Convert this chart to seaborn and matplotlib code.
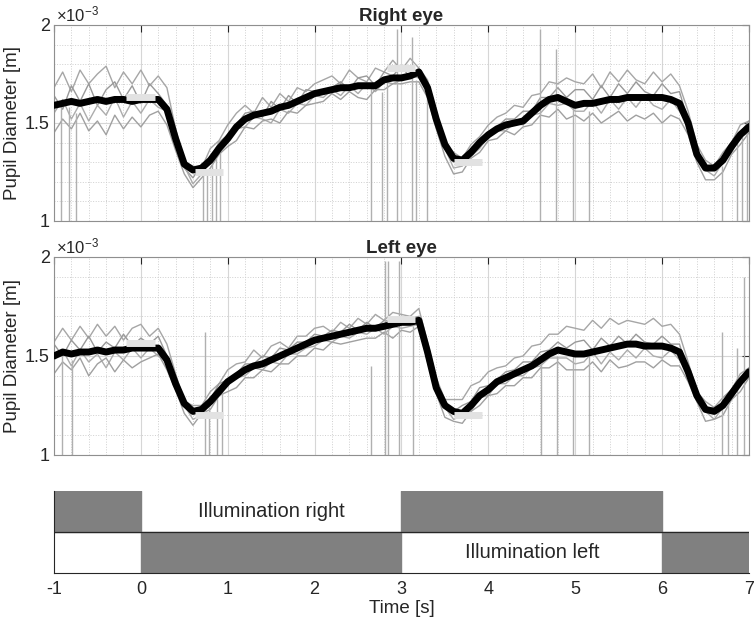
import numpy as np
import matplotlib
matplotlib.use('Agg')
import matplotlib.pyplot as plt
import seaborn as sns
from matplotlib.ticker import MultipleLocator

# time axis [s], one value every 0.1 s
t = np.round(np.linspace(-1, 7, 81), 2)

# pupil diameter, x 1e-3 m
right_mean = [1.59, 1.60, 1.61, 1.60, 1.61, 1.62, 1.61, 1.62, 1.62, 1.61, 1.62, 1.62, 1.62,
              1.57, 1.42, 1.29, 1.26, 1.27, 1.31, 1.37, 1.42,
              1.48, 1.52, 1.54, 1.55, 1.56, 1.58, 1.59, 1.61, 1.63, 1.65,
              1.66, 1.67, 1.68, 1.68, 1.69, 1.69, 1.69, 1.72, 1.73, 1.73, 1.74, 1.76,
              1.68, 1.52, 1.39, 1.32, 1.31, 1.35, 1.40, 1.44,
              1.47, 1.49, 1.50, 1.51, 1.55, 1.59, 1.62, 1.63, 1.61, 1.59,
              1.60, 1.60, 1.61, 1.62, 1.62, 1.63, 1.63, 1.63, 1.63, 1.63, 1.62, 1.60,
              1.50, 1.34, 1.27, 1.27, 1.31, 1.38, 1.44, 1.48]

right_trials = [
    [1.68, 1.76, 1.66, 1.77, 1.70, 1.75, 1.79, 1.68, 1.76, 1.70, 1.77, 1.69, 1.74,
     1.68, 1.47, 1.30, 1.28, 1.27, 1.37, 1.41, 1.49,
     1.55, 1.59, 1.55, 1.63, 1.58, 1.65, 1.61, 1.68, 1.66, 1.70,
     1.72, 1.74, 1.70, 1.77, 1.73, 1.71, 1.78, 1.76, 1.82, 1.77, 1.83, 1.78,
     1.72, 1.56, 1.40, 1.35, 1.32, 1.39, 1.43, 1.49,
     1.53, 1.55, 1.59, 1.58, 1.64, 1.65, 1.71, 1.70, 1.73, 1.71,
     1.70, 1.75, 1.68, 1.76, 1.71, 1.77, 1.72, 1.70, 1.76, 1.71, 1.75, 1.69,
     1.56, 1.39, 1.31, 1.28, 1.35, 1.40, 1.49, 1.51],
    [1.64, 1.57, 1.69, 1.61, 1.70, 1.59, 1.67, 1.71, 1.62, 1.69, 1.60, 1.70, 1.65,
     1.59, 1.44, 1.27, 1.22, 1.29, 1.32, 1.40, 1.44,
     1.49, 1.55, 1.56, 1.53, 1.61, 1.57, 1.64, 1.60, 1.67, 1.66,
     1.67, 1.68, 1.71, 1.67, 1.73, 1.74, 1.69, 1.76, 1.74, 1.79, 1.73, 1.78,
     1.68, 1.54, 1.37, 1.30, 1.32, 1.35, 1.42, 1.45,
     1.48, 1.52, 1.52, 1.56, 1.56, 1.63, 1.63, 1.68, 1.63, 1.67,
     1.67, 1.62, 1.69, 1.63, 1.70, 1.65, 1.71, 1.66, 1.64, 1.70, 1.65, 1.66,
     1.51, 1.37, 1.27, 1.28, 1.31, 1.40, 1.45, 1.51],
    [1.55, 1.62, 1.52, 1.60, 1.51, 1.59, 1.54, 1.63, 1.53, 1.61, 1.55, 1.62, 1.58,
     1.56, 1.39, 1.28, 1.19, 1.24, 1.31, 1.35, 1.42,
     1.47, 1.48, 1.53, 1.52, 1.50, 1.57, 1.55, 1.60, 1.59, 1.64,
     1.63, 1.67, 1.64, 1.69, 1.65, 1.70, 1.66, 1.71, 1.70, 1.72, 1.74, 1.73,
     1.67, 1.49, 1.37, 1.27, 1.28, 1.33, 1.37, 1.43,
     1.46, 1.46, 1.50, 1.49, 1.54, 1.55, 1.60, 1.59, 1.60, 1.56,
     1.56, 1.61, 1.55, 1.62, 1.57, 1.63, 1.58, 1.64, 1.59, 1.57, 1.62, 1.56,
     1.49, 1.31, 1.26, 1.23, 1.30, 1.35, 1.43, 1.45],
    [1.45, 1.52, 1.47, 1.55, 1.46, 1.51, 1.44, 1.54, 1.47, 1.53, 1.48, 1.54, 1.56,
     1.49, 1.36, 1.24, 1.17, 1.22, 1.27, 1.34, 1.38,
     1.41, 1.48, 1.47, 1.51, 1.52, 1.50, 1.56, 1.55, 1.59, 1.60,
     1.61, 1.65, 1.62, 1.66, 1.63, 1.62, 1.67, 1.67, 1.70, 1.70, 1.71, 1.71,
     1.63, 1.47, 1.33, 1.24, 1.25, 1.32, 1.35, 1.41,
     1.42, 1.46, 1.44, 1.48, 1.49, 1.54, 1.53, 1.57, 1.52, 1.54,
     1.51, 1.55, 1.50, 1.53, 1.56, 1.51, 1.54, 1.52, 1.55, 1.50, 1.54, 1.52,
     1.44, 1.30, 1.21, 1.21, 1.25, 1.34, 1.39, 1.45],
]

left_mean = [1.50, 1.52, 1.51, 1.52, 1.52, 1.53, 1.52, 1.53, 1.53, 1.54, 1.54, 1.54, 1.54,
             1.48, 1.36, 1.26, 1.22, 1.23, 1.27, 1.32, 1.37,
             1.40, 1.43, 1.45, 1.46, 1.48, 1.50, 1.52, 1.54, 1.56, 1.58,
             1.59, 1.60, 1.61, 1.62, 1.63, 1.64, 1.64, 1.65, 1.66, 1.67, 1.67, 1.68,
             1.52, 1.34, 1.25, 1.22, 1.21, 1.25, 1.30, 1.33,
             1.37, 1.39, 1.41, 1.43, 1.45, 1.48, 1.51, 1.53, 1.52, 1.51,
             1.51, 1.52, 1.53, 1.54, 1.55, 1.56, 1.56, 1.55, 1.55, 1.55, 1.54, 1.52,
             1.42, 1.30, 1.23, 1.22, 1.25, 1.31, 1.37, 1.42]

left_trials = [
    [1.57, 1.64, 1.58, 1.65, 1.59, 1.66, 1.60, 1.65, 1.58, 1.64, 1.66, 1.60, 1.64,
     1.56, 1.41, 1.27, 1.25, 1.25, 1.32, 1.36, 1.43,
     1.46, 1.47, 1.53, 1.49, 1.55, 1.57, 1.54, 1.60, 1.60, 1.64,
     1.65, 1.62, 1.67, 1.64, 1.69, 1.66, 1.71, 1.68, 1.72, 1.71, 1.70, 1.74,
     1.57, 1.39, 1.28, 1.28, 1.28, 1.35, 1.37, 1.42,
     1.44, 1.45, 1.49, 1.50, 1.55, 1.56, 1.61, 1.61, 1.65, 1.64,
     1.63, 1.68, 1.64, 1.69, 1.66, 1.68, 1.67, 1.66, 1.69, 1.65, 1.66, 1.61,
     1.47, 1.32, 1.27, 1.24, 1.29, 1.33, 1.41, 1.44],
    [1.56, 1.50, 1.58, 1.53, 1.60, 1.52, 1.57, 1.54, 1.61, 1.55, 1.59, 1.56, 1.60,
     1.50, 1.39, 1.26, 1.21, 1.25, 1.28, 1.36, 1.38,
     1.41, 1.46, 1.46, 1.50, 1.49, 1.54, 1.53, 1.57, 1.57, 1.61,
     1.60, 1.63, 1.62, 1.66, 1.63, 1.67, 1.64, 1.68, 1.67, 1.70, 1.69, 1.70,
     1.52, 1.37, 1.27, 1.22, 1.25, 1.27, 1.34, 1.35,
     1.38, 1.42, 1.43, 1.47, 1.47, 1.52, 1.53, 1.57, 1.54, 1.57,
     1.58, 1.53, 1.59, 1.55, 1.60, 1.56, 1.61, 1.57, 1.56, 1.60, 1.56, 1.56,
     1.42, 1.32, 1.23, 1.24, 1.25, 1.33, 1.37, 1.44],
    [1.48, 1.53, 1.45, 1.53, 1.47, 1.51, 1.44, 1.52, 1.48, 1.54, 1.49, 1.54, 1.50,
     1.48, 1.34, 1.25, 1.18, 1.20, 1.27, 1.30, 1.36,
     1.39, 1.40, 1.44, 1.43, 1.47, 1.46, 1.51, 1.51, 1.54, 1.55,
     1.58, 1.57, 1.60, 1.59, 1.62, 1.61, 1.64, 1.61, 1.65, 1.64, 1.65, 1.66,
     1.51, 1.31, 1.24, 1.18, 1.20, 1.22, 1.29, 1.30,
     1.36, 1.36, 1.40, 1.40, 1.44, 1.45, 1.49, 1.49, 1.49, 1.46,
     1.47, 1.52, 1.46, 1.52, 1.48, 1.53, 1.49, 1.54, 1.50, 1.49, 1.53, 1.48,
     1.41, 1.27, 1.22, 1.18, 1.24, 1.28, 1.36, 1.39],
    [1.41, 1.47, 1.43, 1.49, 1.40, 1.46, 1.49, 1.42, 1.48, 1.44, 1.47, 1.49, 1.51,
     1.43, 1.33, 1.21, 1.15, 1.21, 1.23, 1.30, 1.32,
     1.34, 1.39, 1.39, 1.43, 1.42, 1.46, 1.46, 1.50, 1.50, 1.54,
     1.53, 1.57, 1.56, 1.57, 1.58, 1.59, 1.59, 1.62, 1.59, 1.63, 1.62, 1.65,
     1.47, 1.31, 1.19, 1.17, 1.16, 1.22, 1.25, 1.30,
     1.31, 1.35, 1.35, 1.39, 1.39, 1.44, 1.44, 1.47, 1.43, 1.43,
     1.43, 1.47, 1.42, 1.48, 1.44, 1.45, 1.47, 1.47, 1.44, 1.48, 1.45, 1.45,
     1.37, 1.27, 1.17, 1.18, 1.20, 1.28, 1.32, 1.39],
]

# blink artefacts (time, upper end of the vertical spike)
right_spike_t = [-0.92, -0.83, -0.75, 0.72, 0.76, 0.82, 0.86, 0.91, 2.65, 2.78, 2.83, 2.95,
                 3.12, 3.17, 3.29, 4.60, 4.78, 4.98, 5.16, 6.69, 6.86, 6.92, 6.98]
right_spike_top = [1.60, 1.58, 1.55, 1.25, 1.24, 1.30, 1.32, 1.35, 1.70, 1.66, 1.72, 1.98,
                   1.94, 1.72, 1.66, 1.98, 1.88, 1.58, 1.56, 1.28, 1.40, 1.45, 1.47]
left_spike_t = [-0.91, -0.79, 0.74, 0.79, 0.88, 0.93, 2.65, 2.81, 2.84, 2.97, 3.13,
                4.61, 4.79, 4.98, 5.16, 6.69, 6.76, 6.86, 6.94]
left_spike_top = [1.50, 1.48, 1.62, 1.24, 1.30, 1.33, 1.45, 1.98, 1.98, 1.98, 1.65,
                  1.46, 1.50, 1.50, 1.50, 1.62, 1.30, 1.54, 1.90]

# analysis windows (light grey bars)
win_start = [-0.17, 0.62, 2.83, 3.60]
win_end = [0.16, 0.95, 3.16, 3.93]
right_win_val = [1.635, 1.25, 1.78, 1.30]
left_win_val = [1.565, 1.20, 1.685, 1.20]

# illumination blocks
illum_right_on = [(-1, 0), (3, 6)]
illum_left_on = [(0, 3), (6, 7)]
time_ticks = [-1, 0, 1, 2, 3, 4, 5, 6, 7]

sns.set_style('white')
plt.rcParams['font.family'] = ['Liberation Sans', 'DejaVu Sans']
plt.rcParams['mathtext.fontset'] = 'custom'
plt.rcParams['mathtext.rm'] = 'Liberation Sans'
plt.rcParams['mathtext.it'] = 'Liberation Sans'

fig = plt.figure(figsize=(7.55, 6.23), dpi=100)
ax_r = fig.add_axes([0.0715, 0.6453, 0.9205, 0.3146])
ax_l = fig.add_axes([0.0715, 0.2697, 0.9205, 0.3178])
ax_i = fig.add_axes([0.0715, 0.0803, 0.9205, 0.1316])

trial_cols = ['#a6a6a6', '#999999', '#acacac', '#a0a0a0']


def eye_panel(ax, mean, trials, sp_t, sp_top, win_val, title):
    for tr, c in zip(trials, trial_cols):
        sns.lineplot(x=t, y=tr, ax=ax, color=c, lw=1.0, estimator=None, zorder=2)
    ax.vlines(sp_t, 0.9, sp_top, color='#b0b0b0', lw=1.0, zorder=2)
    sns.lineplot(x=t, y=mean, ax=ax, color='black', lw=5.0, estimator=None, zorder=4)
    ax.hlines(win_val, win_start, win_end, color='#e2e2e2', lw=5, zorder=5)
    ax.set_xlim(-1, 7)
    ax.set_ylim(1, 2)
    ax.xaxis.set_major_locator(MultipleLocator(1))
    ax.xaxis.set_minor_locator(MultipleLocator(0.2))
    ax.yaxis.set_major_locator(MultipleLocator(0.5))
    ax.yaxis.set_minor_locator(MultipleLocator(0.1))
    ax.grid(which='major', color='#d6d6d6', lw=0.8, ls='-')
    ax.grid(which='minor', color='#cfcfcf', lw=0.7, ls=':')
    ax.set_axisbelow(True)
    ax.set_yticks([1, 1.5, 2])
    ax.set_yticklabels(['1', '1.5', '2'])
    ax.set_xticklabels([])
    ax.tick_params(which='major', direction='in', top=True, right=True, length=5,
                   color='#262626', labelsize=13, pad=3)
    ax.tick_params(which='minor', length=0)
    for s in ax.spines.values():
        s.set_color('#8f8f8f')
        s.set_linewidth(0.8)
    ax.set_ylabel('Pupil Diameter [m]', fontsize=13.5, labelpad=3)
    ax.set_xlabel('')
    ax.set_title(title, fontweight='bold', fontsize=13.5, pad=3)
    ax.text(0.003, 1.005, r'$\times10^{-3}$', transform=ax.transAxes,
            ha='left', va='bottom', fontsize=12)


eye_panel(ax_r, right_mean, right_trials, right_spike_t, right_spike_top, right_win_val, 'Right eye')
eye_panel(ax_l, left_mean, left_trials, left_spike_t, left_spike_top, left_win_val, 'Left eye')

# illumination panel
ax_i.broken_barh([(a, b - a) for a, b in illum_right_on], (0.5, 0.5), color='#808080', zorder=1)
ax_i.broken_barh([(a, b - a) for a, b in illum_left_on], (0, 0.5), color='#808080', zorder=1)
ax_i.axhline(0.5, color='#262626', lw=0.9, zorder=2)
ax_i.text(1.5, 0.75, 'Illumination right', ha='center', va='center', fontsize=14.5)
ax_i.text(4.5, 0.25, 'Illumination left', ha='center', va='center', fontsize=14.5)
ax_i.set_xlim(-1, 7)
ax_i.set_ylim(0, 1)
ax_i.set_xticks(time_ticks)
ax_i.set_xticklabels([str(v) for v in time_ticks])
ax_i.set_yticks([])
ax_i.tick_params(axis='x', direction='in', length=5, color='#262626', labelsize=13, pad=6)
ax_i.spines['top'].set_visible(False)
ax_i.spines['right'].set_visible(False)
ax_i.spines['left'].set_color('#262626')
ax_i.spines['bottom'].set_color('#262626')
ax_i.spines['left'].set_linewidth(0.8)
ax_i.spines['bottom'].set_linewidth(0.8)
ax_i.set_xlabel('Time [s]', fontsize=13.5, labelpad=1)

fig.savefig('out.png', dpi=100)
